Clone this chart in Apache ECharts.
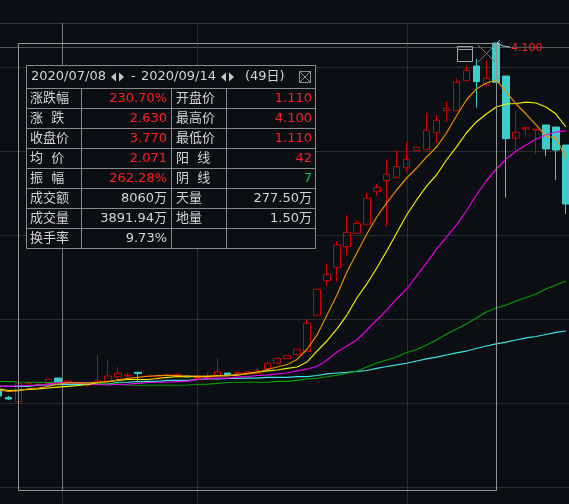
<!DOCTYPE html>
<html><head><meta charset="utf-8">
<style>html,body{margin:0;padding:0;background:#0b0e12}#c{width:569px;height:504px}</style>
<script src="https://cdn.jsdelivr.net/npm/echarts@6/dist/echarts.min.js"></script>
</head><body><div id="c"></div>
<script>
const dates=['07/06','07/07','07/08','07/09','07/10','07/13','07/14','07/15','07/16','07/17','07/20','07/21','07/22','07/23','07/24','07/27','07/28','07/29','07/30','07/31','08/03','08/04','08/05','08/06','08/07','08/10','08/11','08/12','08/13','08/14','08/17','08/18','08/19','08/20','08/21','08/24','08/25','08/26','08/27','08/28','08/31','09/01','09/02','09/03','09/04','09/07','09/08','09/09','09/10','09/11','09/14','09/15','09/16','09/17','09/18','09/21','09/22','09/23'];
// [open, close, low, high]
const ohlc=[[1.203,1.158,1.158,1.203],[1.146,1.133,1.125,1.158],[1.11,1.267,1.11,1.267],[1.26,1.267,1.26,1.267],[1.25,1.258,1.25,1.258],[1.263,1.3,1.263,1.3],[1.308,1.275,1.275,1.308],[1.275,1.283,1.275,1.283],[1.262,1.268,1.262,1.268],[1.25,1.263,1.233,1.263],[1.267,1.283,1.267,1.5],[1.283,1.325,1.283,1.458],[1.319,1.348,1.3,1.4],[1.325,1.333,1.308,1.353],[1.356,1.346,1.275,1.356],[1.32,1.325,1.32,1.325],[1.317,1.328,1.278,1.328],[1.33,1.335,1.33,1.335],[1.333,1.34,1.333,1.34],[1.325,1.317,1.317,1.325],[1.304,1.313,1.304,1.313],[1.308,1.317,1.308,1.35],[1.325,1.361,1.325,1.475],[1.35,1.331,1.331,1.35],[1.35,1.356,1.35,1.356],[1.35,1.361,1.35,1.361],[1.348,1.369,1.342,1.398],[1.386,1.431,1.383,1.447],[1.431,1.473,1.431,1.473],[1.469,1.494,1.469,1.494],[1.503,1.548,1.503,1.548],[1.528,1.764,1.528,1.798],[1.831,2.048,1.831,2.048],[2.119,2.172,2.078,2.264],[2.231,2.417,2.111,2.45],[2.403,2.522,2.333,2.667],[2.514,2.597,2.514,2.625],[2.589,2.806,2.589,2.853],[2.864,2.897,2.825,2.925],[2.953,3.006,2.569,3.133],[2.981,3.072,2.981,3.208],[3.061,3.131,3.027,3.278],[3.203,3.231,3.203,3.231],[3.211,3.373,3.211,3.514],[3.353,3.456,3.267,3.5],[3.536,3.556,3.444,3.611],[3.536,3.773,3.536,3.806],[3.786,3.873,3.786,3.908],[3.908,3.778,3.561,3.967],[3.756,3.806,3.731,3.958],[4.1,3.772,3.772,4.1],[3.825,3.303,2.811,3.825],[3.306,3.356,3.208,3.533],[3.383,3.397,3.319,3.397],[3.375,3.381,3.175,3.381],[3.417,3.217,3.158,3.417],[3.4,3.208,2.958,3.4],[3.25,2.758,2.675,3.25]];
const maOrange=[1.208,1.196,1.2,1.217,1.225,1.238,1.258,1.267,1.267,1.267,1.273,1.275,1.292,1.306,1.314,1.323,1.328,1.331,1.329,1.325,1.325,1.325,1.325,1.328,1.339,1.342,1.354,1.379,1.4,1.421,1.463,1.55,1.667,1.833,2.0,2.192,2.35,2.508,2.65,2.767,2.875,2.975,3.058,3.15,3.233,3.35,3.492,3.625,3.717,3.767,3.792,3.692,3.592,3.508,3.417,3.325,3.308,3.142];
const maYellow=[1.217,1.204,1.208,1.213,1.217,1.225,1.233,1.238,1.246,1.254,1.271,1.279,1.288,1.296,1.296,1.296,1.304,1.313,1.321,1.319,1.319,1.319,1.328,1.328,1.332,1.346,1.358,1.367,1.375,1.388,1.4,1.442,1.533,1.617,1.717,1.833,1.975,2.092,2.225,2.367,2.517,2.667,2.792,2.908,3.0,3.125,3.233,3.35,3.442,3.508,3.567,3.592,3.596,3.608,3.6,3.567,3.508,3.4];
const maMagenta=[1.242,1.238,1.242,1.246,1.25,1.258,1.267,1.271,1.267,1.258,1.254,1.25,1.254,1.258,1.264,1.271,1.273,1.273,1.278,1.283,1.296,1.306,1.308,1.308,1.315,1.319,1.329,1.333,1.342,1.35,1.367,1.383,1.404,1.458,1.525,1.575,1.625,1.708,1.792,1.875,1.967,2.05,2.158,2.267,2.383,2.483,2.583,2.7,2.833,2.95,3.05,3.133,3.2,3.25,3.3,3.333,3.358,3.367];
const maGreen=[1.279,1.279,1.275,1.273,1.273,1.271,1.271,1.267,1.267,1.263,1.258,1.258,1.258,1.25,1.248,1.248,1.248,1.248,1.248,1.25,1.254,1.258,1.263,1.271,1.273,1.273,1.273,1.273,1.281,1.281,1.289,1.3,1.306,1.319,1.333,1.348,1.367,1.4,1.433,1.458,1.483,1.521,1.546,1.583,1.625,1.675,1.717,1.758,1.808,1.858,1.892,1.917,1.95,1.979,2.008,2.05,2.083,2.117];
const maCyan=[1.238,1.239,1.239,1.239,1.25,1.25,1.253,1.253,1.253,1.258,1.258,1.258,1.273,1.273,1.278,1.281,1.281,1.288,1.288,1.288,1.296,1.3,1.3,1.304,1.304,1.308,1.308,1.313,1.314,1.314,1.319,1.319,1.329,1.342,1.35,1.356,1.363,1.371,1.388,1.404,1.417,1.431,1.45,1.467,1.483,1.5,1.517,1.533,1.554,1.575,1.592,1.608,1.625,1.642,1.654,1.671,1.688,1.7];
const rowLabelsLeft=['涨跌幅','涨  跌','收盘价','均  价','振  幅','成交额','成交量','换手率'];
const rowValuesLeft=['230.70%','2.630','3.770','2.071','262.28%','8060万','3891.94万','9.73%'];
const rowLabelsRight=['开盘价','最高价','最低价','阳  线','阴  线','天量','地量',''];
const rowValuesRight=['1.110','4.100','1.110','42','7','277.50万','1.50万',''];
const COL={bg:'#0b0e12',grid:'#2a2d2f',line:'#8a8a8a',text:'#d4d4d4',red:'#ff2020',green:'#10c050',upC:'#d00000',dnC:'#3ccccc'};
const FONT='"DejaVu Sans","Noto Sans CJK SC",sans-serif';
const g=[];
const ln=(x1,y1,x2,y2,c,z,w)=>g.push({type:'line',z:z,silent:true,shape:{x1,y1,x2,y2},style:{stroke:c,lineWidth:w||1}});
const tx=(x,y,t,c,a,s)=>g.push({type:'text',z:12,silent:true,x,y,style:{text:t,fill:c,font:(s||13)+'px '+FONT,textAlign:a||'left',textVerticalAlign:'middle'}});
// frame lines behind the marks
ln(0,23.5,569,23.5,'#38393a',1);
ln(0,47.5,569,47.5,'#555555',1);
ln(197.5,23,197.5,504,COL.grid,1);
ln(407.5,23,407.5,504,COL.grid,1);
ln(62.5,23,62.5,491,'#777777',1);
ln(62.5,491,62.5,504,COL.grid,1);
// selection box
g.push({type:'rect',z:9,silent:true,shape:{x:18.5,y:43.5,width:478,height:447},style:{fill:'none',stroke:'#949494',lineWidth:1}});
// top-right icons and peak label
g.push({type:'rect',z:10,silent:true,shape:{x:457.5,y:46.5,width:15,height:15},style:{fill:'none',stroke:'#a0a0a0',lineWidth:1}});
ln(457.5,49.5,472.5,49.5,'#a0a0a0',10);
ln(478,45,495,62,'#777777',10);ln(495,45,478,62,'#777777',10);
ln(497,43,503,46,'#b8b8b8',10);ln(503,46,510,47,'#b8b8b8',10);
ln(497,43,500,40,'#b8b8b8',10);
tx(511,48.5,'4.100',COL.red,'left',11);
// table
const L=26.5,R=315.5,T=65.5,H0=88.5,RH=20,C1=81.5,C2=171.5,C3=226.5,N=8;
g.push({type:'rect',z:11,silent:true,shape:{x:L,y:T,width:R-L,height:H0+RH*N-T},style:{fill:COL.bg,stroke:COL.line,lineWidth:1}});
for(let i=0;i<N;i++)ln(L,H0+RH*i,R,H0+RH*i,COL.line,12);
const B=H0+RH*N;
[C1,C2,C3].forEach(x=>ln(x,H0,x,B,COL.line,12));
tx(31,77,'2020/07/08',COL.text);
tx(131,77,'-',COL.text);
tx(141,77,'2020/09/14',COL.text);
tx(245,77,'(49日)',COL.text);
[111,221].forEach(x=>{
 g.push({type:'polygon',z:12,silent:true,shape:{points:[[x+5,72.5],[x+5,81.5],[x,77]]},style:{fill:'#c8c8c8'}});
 g.push({type:'polygon',z:12,silent:true,shape:{points:[[x+8,72.5],[x+8,81.5],[x+13,77]]},style:{fill:'#c8c8c8'}});
});
g.push({type:'rect',z:12,silent:true,shape:{x:299.5,y:71.5,width:11,height:11},style:{fill:'none',stroke:'#909090',lineWidth:1}});
ln(299.5,71.5,310.5,82.5,'#909090',12);ln(310.5,71.5,299.5,82.5,'#909090',12);
const valColor=(v,i,right)=>{
  if(right) return i<4?COL.red:(i===4?COL.green:COL.text);
  return i<5?COL.red:COL.text;
};
rowLabelsLeft.forEach((t,i)=>{
  const y=H0+RH*i+10;
  tx(30,y,t,COL.text);
  tx(167,y,rowValuesLeft[i],valColor(0,i,false),'right');
  if(rowLabelsRight[i]){tx(176,y,rowLabelsRight[i],COL.text);
  tx(312,y,rowValuesRight[i],valColor(0,i,true),'right');}
});
const lineS=(name,data,color)=>({name,type:'line',data,symbol:'none',smooth:false,z:4,lineStyle:{color,width:1.2},silent:true});
const chart=echarts.init(document.getElementById('c'),null,{renderer:'canvas'});
chart.setOption({
 animation:false,backgroundColor:COL.bg,
 grid:{left:-6.5,width:577.4,top:-101,height:588,containLabel:false,outerBoundsMode:'none'},
 xAxis:{type:'category',data:dates,boundaryGap:true,axisLine:{show:false},axisTick:{show:false},axisLabel:{show:false},splitLine:{show:false}},
 yAxis:{type:'value',min:0.4,max:5.3,interval:0.7,axisLine:{show:false},axisTick:{show:false},axisLabel:{show:false},splitLine:{show:true,lineStyle:{color:COL.grid,width:1}}},
 series:[
  {name:'K',type:'candlestick',data:ohlc,barWidth:7,z:3,silent:true,clip:false,
   itemStyle:{color:'transparent',color0:COL.dnC,borderColor:COL.upC,borderColor0:COL.dnC,borderWidth:1}},
  lineS('MA60',maCyan,'#40e4e4'),
  lineS('MA30',maGreen,'#00a000'),
  lineS('MA20',maMagenta,'#e800e8'),
  lineS('MA10',maYellow,'#eeee00'),
  lineS('MA5',maOrange,'#e89000')
 ],
 graphic:{elements:g}
});
</script></body></html>
